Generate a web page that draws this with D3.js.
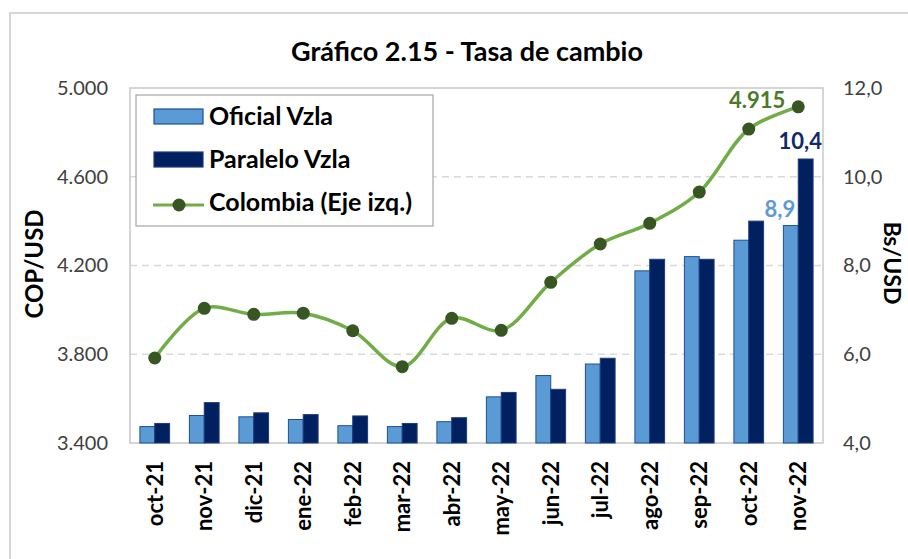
<!DOCTYPE html>
<html>
<head>
<meta charset="utf-8">
<script src="https://cdn.jsdelivr.net/npm/d3@7"></script>
<style>
  body { margin: 0; background: #fff; }
  svg { font-family: Lato, "Open Sans", sans-serif; }
</style>
</head>
<body>
<svg id="chart" width="908" height="559"></svg>
<script>
// valores
const meses = ['oct-21', 'nov-21', 'dic-21', 'ene-22', 'feb-22', 'mar-22', 'abr-22',
  'may-22', 'jun-22', 'jul-22', 'ago-22', 'sep-22', 'oct-22', 'nov-22']
const oficial = [4.37, 4.62, 4.59, 4.53, 4.39, 4.37, 4.48, 5.04, 5.52, 5.78, 7.88, 8.20, 8.57, 8.9]
const paralelo = [4.44, 4.91, 4.68, 4.64, 4.61, 4.44, 4.57, 5.14, 5.21, 5.91, 8.14, 8.14, 9.00, 10.4]
const colombia = [3783, 4007, 3980, 3985, 3906, 3744, 3962, 3908, 4124, 4297, 4390, 4531, 4815, 4915]
const ticksIzq = [3400, 3800, 4200, 4600, 5000]
const ticksDer = [4, 6, 8, 10, 12]

const mIzq = 130, mDer = 823, mSup = 88, mInf = 443

const svg = d3.select('#chart')

const es = d3.formatLocale({decimal: ',', thousands: '.', grouping: [3], currency: ['$', '']})
const fmtMiles = es.format(',.0f')
const fmtDec = es.format('.1f')

const x0 = d3.scaleBand().domain(meses).range([mIzq, mDer]).paddingInner(0.4).paddingOuter(0.2)
const x1 = d3.scaleBand().domain(['oficial', 'paralelo']).range([0, x0.bandwidth()])
const yIzq = d3.scaleLinear().domain([3400, 5000]).range([mInf, mSup])
const yDer = d3.scaleLinear().domain([4, 12]).range([mInf, mSup])

// marco exterior
svg.append('rect')
  .attr('x', 10).attr('y', 13).attr('width', 1000).attr('height', 700)
  .attr('fill', 'none').attr('stroke', '#d6d6d6').attr('stroke-width', 2)

svg.append('text')
  .attr('x', 467).attr('y', 61)
  .attr('text-anchor', 'middle')
  .attr('font-size', 27).attr('font-weight', 'bold').attr('fill', '#000')
  .text('Gráfico 2.15 - Tasa de cambio')

// grilla
svg.append('g')
  .selectAll('line')
  .data(ticksIzq.slice(1, -1))
  .join('line')
  .attr('x1', mIzq).attr('x2', mDer)
  .attr('y1', d => yIzq(d)).attr('y2', d => yIzq(d))
  .attr('stroke', '#d9d9d9').attr('stroke-width', 1.5).attr('stroke-dasharray', '7,5')

// borde del área
svg.append('rect')
  .attr('x', mIzq).attr('y', mSup).attr('width', mDer - mIzq).attr('height', mInf - mSup)
  .attr('fill', 'none').attr('stroke', '#c8c8c8').attr('stroke-width', 1.5)

// barras
const grupos = svg.append('g')
  .selectAll('g')
  .data(meses)
  .join('g')
  .attr('transform', d => `translate(${x0(d)},0)`)

grupos.append('rect')
  .attr('x', x1('oficial')).attr('width', x1.bandwidth())
  .attr('y', (d, i) => yDer(oficial[i]))
  .attr('height', (d, i) => mInf - yDer(oficial[i]))
  .attr('fill', '#5b9bd5').attr('stroke', '#1f4e96').attr('stroke-width', 1)

grupos.append('rect')
  .attr('x', x1('paralelo')).attr('width', x1.bandwidth())
  .attr('y', (d, i) => yDer(paralelo[i]))
  .attr('height', (d, i) => mInf - yDer(paralelo[i]))
  .attr('fill', '#002060').attr('stroke', '#1f3a80').attr('stroke-width', 1)

// línea Colombia
const cx = m => x0(m) + x0.bandwidth() / 2
const linea = d3.line()
  .x((d, i) => cx(meses[i]))
  .y(d => yIzq(d))
  .curve(d3.curveCatmullRom.alpha(0.5))

svg.append('path')
  .datum(colombia)
  .attr('d', linea)
  .attr('fill', 'none').attr('stroke', '#70ad47').attr('stroke-width', 3.5)

svg.append('g')
  .selectAll('circle')
  .data(colombia)
  .join('circle')
  .attr('cx', (d, i) => cx(meses[i]))
  .attr('cy', d => yIzq(d))
  .attr('r', 6.5)
  .attr('fill', '#375623')

// etiquetas de valores
const ult = meses.length - 1
svg.append('text')
  .attr('x', cx(meses[ult]) - 41).attr('y', yIzq(colombia[ult]) + 1)
  .attr('text-anchor', 'middle').attr('font-size', 22).attr('font-weight', 'bold')
  .attr('fill', '#4a7a2a')
  .text(fmtMiles(colombia[ult]))

svg.append('text')
  .attr('x', cx(meses[ult]) + 2).attr('y', yDer(paralelo[ult]) - 10)
  .attr('text-anchor', 'middle').attr('font-size', 22).attr('font-weight', 'bold')
  .attr('fill', '#0f2a6b')
  .text(fmtDec(paralelo[ult]))

svg.append('text')
  .attr('x', x0(meses[ult]) + x1('oficial') + x1.bandwidth() / 2 - 11).attr('y', yDer(oficial[ult]) - 9)
  .attr('text-anchor', 'middle').attr('font-size', 22).attr('font-weight', 'bold')
  .attr('fill', '#5b9bd5')
  .text(fmtDec(oficial[ult]))

// ejes
const ejeIzq = svg.append('g')
  .attr('transform', `translate(${mIzq},0)`)
  .call(d3.axisLeft(yIzq).tickValues(ticksIzq).tickFormat(fmtMiles).tickSize(0).tickPadding(22))
ejeIzq.select('.domain').remove()
ejeIzq.selectAll('text').attr('font-size', 20).attr('fill', '#404040').attr('font-family', 'Lato')

const ejeDer = svg.append('g')
  .attr('transform', `translate(${mDer},0)`)
  .call(d3.axisRight(yDer).tickValues(ticksDer).tickFormat(fmtDec).tickSize(0).tickPadding(20))
ejeDer.select('.domain').remove()
ejeDer.selectAll('text').attr('font-size', 20).attr('fill', '#404040').attr('font-family', 'Lato')

const ejeX = svg.append('g')
  .attr('transform', `translate(0,${mInf})`)
  .call(d3.axisBottom(x0).tickSize(0).tickPadding(0))
ejeX.select('.domain').remove()
ejeX.selectAll('text')
  .attr('transform', 'rotate(-90)')
  .attr('x', -18).attr('y', 0).attr('dy', '0.36em')
  .attr('text-anchor', 'end')
  .attr('font-size', 22).attr('font-weight', 'bold').attr('fill', '#000').attr('font-family', 'Lato')

svg.append('text')
  .attr('transform', 'translate(43,264) rotate(-90)')
  .attr('text-anchor', 'middle').attr('font-size', 24).attr('font-weight', 'bold')
  .text('COP/USD')

svg.append('text')
  .attr('transform', 'translate(884,263) rotate(90)')
  .attr('text-anchor', 'middle').attr('font-size', 23).attr('font-weight', 'bold')
  .text('Bs/USD')

// leyenda
const ley = svg.append('g')
ley.append('rect')
  .attr('x', 136).attr('y', 95).attr('width', 297).attr('height', 131)
  .attr('fill', '#fff').attr('stroke', '#a6a6a6').attr('stroke-width', 1.2)

ley.append('rect').attr('x', 154).attr('y', 109).attr('width', 49).attr('height', 15)
  .attr('fill', '#5b9bd5').attr('stroke', '#1f4e96').attr('stroke-width', 1.2)
ley.append('rect').attr('x', 154).attr('y', 152).attr('width', 49).attr('height', 15)
  .attr('fill', '#002060').attr('stroke', '#1f3a80').attr('stroke-width', 1.2)
ley.append('line').attr('x1', 153).attr('x2', 204).attr('y1', 205).attr('y2', 205)
  .attr('stroke', '#70ad47').attr('stroke-width', 3)
ley.append('circle').attr('cx', 179).attr('cy', 205).attr('r', 6.5).attr('fill', '#375623')

ley.selectAll('text.item')
  .data(['Oficial Vzla', 'Paralelo Vzla', 'Colombia (Eje izq.)'])
  .join('text')
  .attr('class', 'item')
  .attr('x', 209).attr('y', (d, i) => 125 + i * 43)
  .attr('font-size', 25).attr('font-weight', 'bold').attr('fill', '#000')
  .text(d => d)
</script>
</body>
</html>
